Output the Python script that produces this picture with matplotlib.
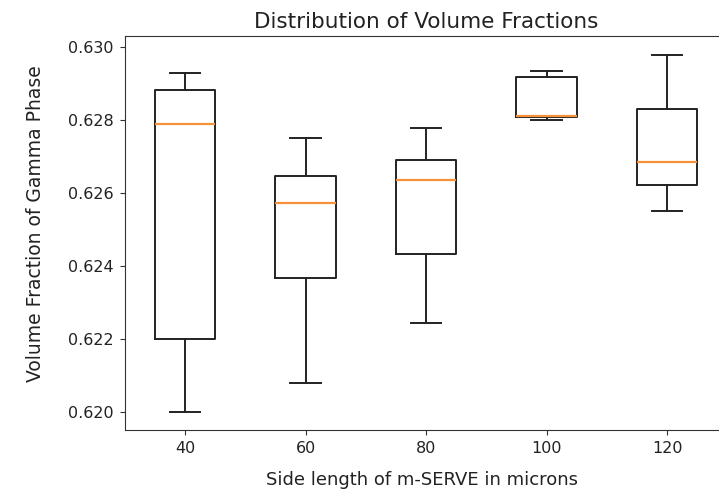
import matplotlib
matplotlib.use("Agg")
import matplotlib.pyplot as plt

# side lengths of m-SERVE (microns)
sizes = ["40", "60", "80", "100", "120"]

# box statistics
whislo = [0.62000, 0.62080, 0.62245, 0.62799, 0.62551]
q1 = [0.62200, 0.62368, 0.62432, 0.62808, 0.62621]
med = [0.62789, 0.62571, 0.62636, 0.62811, 0.62685]
q3 = [0.62882, 0.62647, 0.62690, 0.62918, 0.62828]
whishi = [0.62929, 0.62750, 0.62778, 0.62932, 0.62977]

stats = []
for i, lab in enumerate(sizes):
    stats.append(dict(label=lab, whislo=whislo[i], q1=q1[i], med=med[i],
                      q3=q3[i], whishi=whishi[i], fliers=[]))

fig = plt.figure(figsize=(7.19, 4.91), dpi=100)
# the right edge of the axes lies just outside the figure, as in the reference
ax = fig.add_axes([0.1735, 0.1242, 0.838, 0.8024])

ax.bxp(stats, widths=0.5,
       boxprops=dict(color="#222222", linewidth=1.4),
       whiskerprops=dict(color="#222222", linewidth=1.4),
       capprops=dict(color="#222222", linewidth=1.4),
       medianprops=dict(color="#f7913a", linewidth=1.6))

ax.set_ylim(0.61951, 0.63029)
ax.set_yticks([0.620, 0.622, 0.624, 0.626, 0.628, 0.630])
ax.tick_params(labelsize=11.5, pad=4.5, color="#333333", labelcolor="#222222")
for sp in ax.spines.values():
    sp.set_color("#333333")
ax.spines["right"].set_visible(False)

ax.set_title("Distribution of Volume Fractions", fontsize=15.5, pad=6, color="#222222")
ax.set_xlabel("Side length of m-SERVE in microns", fontsize=13, color="#222222")
ax.set_ylabel("Volume Fraction of Gamma Phase", fontsize=13.5, color="#222222")
ax.xaxis.set_label_coords(0.493, -0.105)
ax.yaxis.set_label_coords(-0.132, 0.525)

fig.savefig("out.png", dpi=100)
